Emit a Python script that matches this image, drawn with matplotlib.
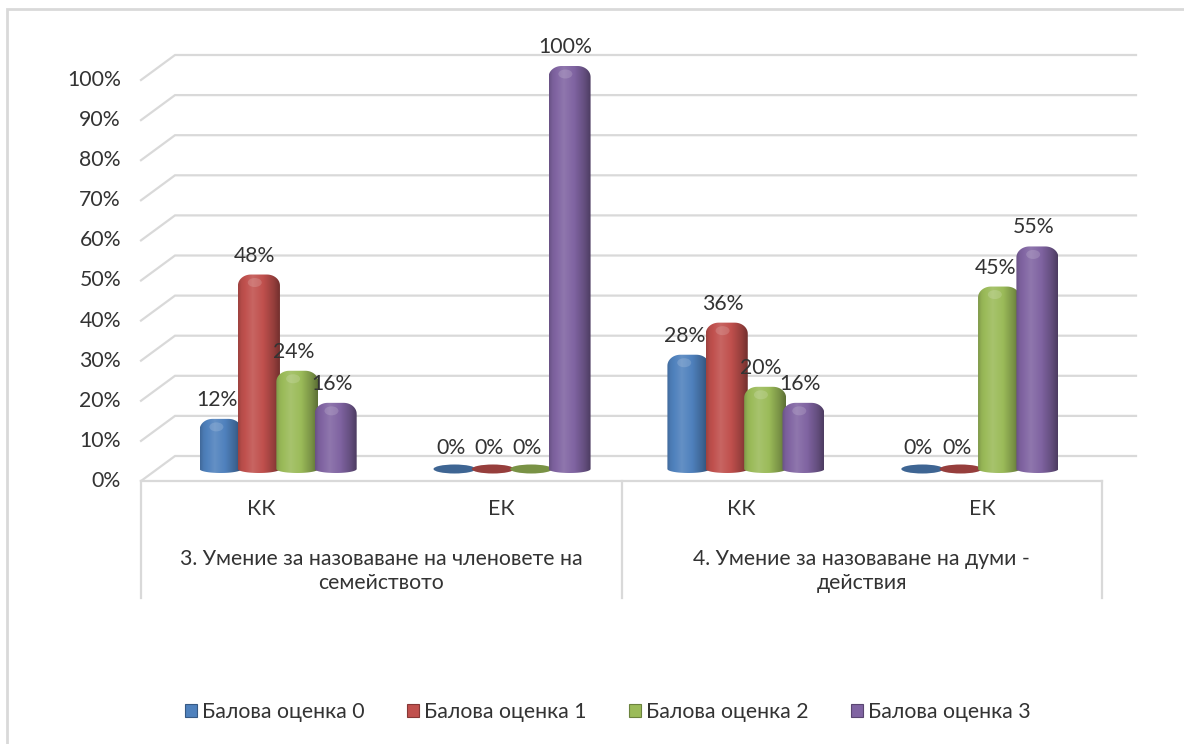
import numpy as np
import matplotlib
matplotlib.use('Agg')
import matplotlib.pyplot as plt
from matplotlib.patches import Polygon, Ellipse, Rectangle, Patch

plt.rcParams['font.family'] = ['Lato', 'DejaVu Sans']

categories = ['КК', 'ЕК', 'КК', 'ЕК']
groups = ['3. Умение за назоваване на членовете на\nсемейството',
          '4. Умение за назоваване на думи -\nдействия']
series = ['Балова оценка 0', 'Балова оценка 1', 'Балова оценка 2', 'Балова оценка 3']
score0 = [12, 0, 28, 0]
score1 = [48, 0, 36, 0]
score2 = [24, 0, 20, 45]
score3 = [16, 100, 16, 55]
values = [score0, score1, score2, score3]
colors = ['#4F81BD', '#C0504D', '#9BBB59', '#8064A2']
yticks = list(range(0, 101, 10))

W, H = 1184, 744
FS = 15.3
fig = plt.figure(figsize=(W / 100, H / 100), dpi=100)
ax = fig.add_axes([141 / W, (H - 481) / H, 961 / W, 401 / H])
ax.set_xlim(0, 4)
ax.set_ylim(0, 100)
ax.axis('off')

# pixel -> data unit sizes
PX = 4 / 961
PY = 100 / 401
GRID = '#D9D9D9'
TXT = '#333333'

# back wall offset (fake 3d)
wdx, wdy = 34 * PX, 25 * PY
for v in yticks:
    ax.plot([0, wdx, 4 + wdx], [v, v + wdy, v + wdy], color=GRID, lw=1.6,
            clip_on=False, zorder=1, solid_joinstyle='miter')
    ax.text(-20 * PX, v, f'{v}%', ha='right', va='center', fontsize=FS,
            color=TXT, clip_on=False)

# floor front edge and category separators
ax.plot([0, 4], [0, 0], color=GRID, lw=1.6, clip_on=False, zorder=1)
for xs in [0, 2, 4]:
    ax.plot([xs, xs], [0, -117 * PY], color=GRID, lw=1.6, clip_on=False, zorder=1)
for i, c in enumerate(categories):
    ax.text(i + 0.5, -28 * PY, c, ha='center', va='center', fontsize=FS,
            color=TXT, clip_on=False)
for g, txt in enumerate(groups):
    ax.text(2 * g + 1, -90 * PY, txt, ha='center', va='center', fontsize=FS,
            color=TXT, clip_on=False, linespacing=1.3, multialignment='center')


def shade(color, f):
    c = np.array(matplotlib.colors.to_rgb(color))
    if f >= 1:
        return c + (1 - c) * (f - 1)
    return c * f


def cylinder(x0, x1, base, top, color, z):
    e = 4 * PY
    rx, ry = 13 * PX, 11 * PY
    xc = (x0 + x1) / 2
    t = np.linspace(np.pi, 2 * np.pi, 30)
    pts = list(zip(xc + (x1 - x0) / 2 * np.cos(t), base + e * np.sin(t)))
    t = np.linspace(0, np.pi / 2, 15)
    pts += list(zip(x1 - rx + rx * np.cos(t), top - ry + ry * np.sin(t)))
    t = np.linspace(np.pi / 2, np.pi, 15)
    pts += list(zip(x0 + rx + rx * np.cos(t), top - ry + ry * np.sin(t)))
    poly = Polygon(pts, closed=True, facecolor='none', edgecolor='none',
                   clip_on=False)
    ax.add_patch(poly)
    prof_t = [0, 0.08, 0.35, 0.6, 0.85, 1.0]
    prof_f = [0.82, 0.95, 1.12, 1.0, 0.78, 0.6]
    u = np.linspace(0, 1, 64)
    f = np.interp(u, prof_t, prof_f)
    img = np.array([[shade(color, k) for k in f]])
    im = ax.imshow(img, extent=[x0, x1, base - e, top], aspect='auto',
                   zorder=z, interpolation='bilinear')
    im.set_clip_box(fig.bbox)
    im.set_clip_path(poly)
    # soft highlight near top
    ax.add_patch(Ellipse((x0 + (x1 - x0) * 0.4, top - 8 * PY), 14 * PX, 9 * PY,
                         facecolor='white', alpha=0.15, edgecolor='none',
                         zorder=z + 0.1, clip_on=False))


# bar plane (slight perspective compression)
k, b = 0.9736, 0.084
bdy = 12 * PY
pitch = 0.164
bw = 42 * PX
for j, vals in enumerate(values):
    for i, v in enumerate(vals):
        xf = i + 0.5 + (j - 1.5) * pitch
        xc = k * xf + b
        base = bdy
        z = 3 + j
        if v == 0:
            ax.add_patch(Ellipse((xc, base), bw, 9 * PY, facecolor=shade(colors[j], 0.78),
                                 edgecolor='none', zorder=z, clip_on=False))
        else:
            cylinder(xc - bw / 2, xc + bw / 2, base, base + v + 2 * PY, colors[j], z)
        ax.text(xc - 4 * PX, base + v + 21 * PY, f'{v}%', ha='center', va='center',
                fontsize=FS, color=TXT, zorder=10, clip_on=False)

# chart frame
fig.add_artist(Rectangle((7 / W, -0.1), 1.2, (H - 9) / H + 0.1, transform=fig.transFigure,
                         fill=False, edgecolor=GRID, lw=2))

handles = [Patch(facecolor=c, edgecolor=shade(c, 0.7), lw=0.8) for c in colors]
fig.legend(handles, series, loc='center', bbox_to_anchor=(608 / W, (H - 712) / H), ncol=4,
           frameon=False, fontsize=FS, handlelength=0.55, handleheight=0.55,
           handletextpad=0.25, columnspacing=2.0, labelcolor=TXT)

fig.savefig('out.png', dpi=100, facecolor='white')
